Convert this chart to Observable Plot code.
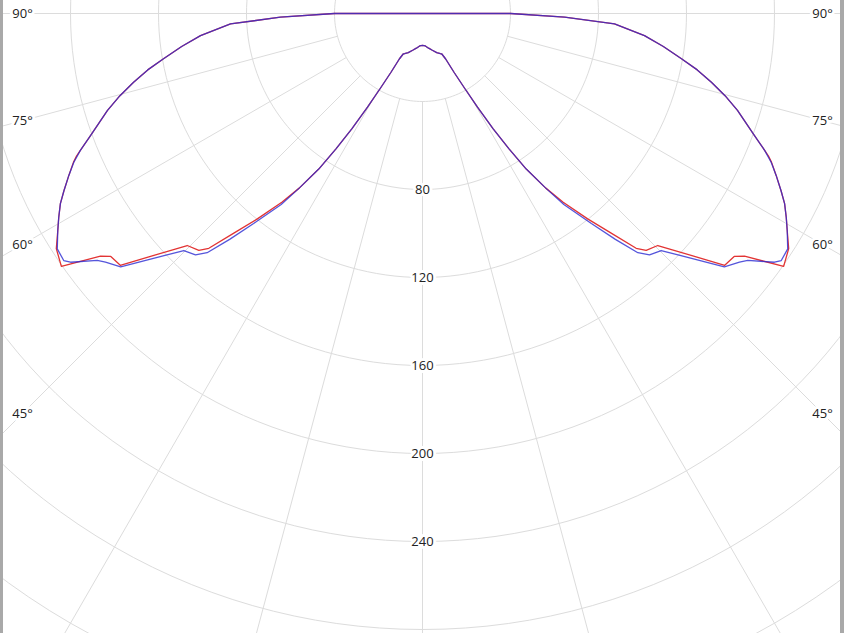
<!DOCTYPE html>
<html>
<head>
<meta charset="utf-8">
<script src="https://cdn.jsdelivr.net/npm/d3@7"></script>
<script src="https://cdn.jsdelivr.net/npm/@observablehq/plot@0.6"></script>
<style>
  body { margin: 0; background: #fff; }
  #wrap { position: relative; width: 844px; height: 633px; overflow: hidden; background: #fff; }
  #wrap::before, #wrap::after { content: ""; position: absolute; top: 0; bottom: 0; background: #a9a9a9; z-index: 2; }
  #wrap::before { left: 0; width: 3px; }
  #wrap::after { right: 0; width: 4px; }
  #wrap svg { display: block; }
</style>
</head>
<body>
<div id="wrap"></div>
<script>
// ---- data (gamma angle in degrees, intensity) ----
const ringValues = [40, 80, 120, 160, 200, 240, 280, 320];
const ringLabels = [80, 120, 160, 200, 240];
const spokeAngles = [-90, -75, -60, -45, -30, -15, 0, 15, 30, 45, 60, 75, 90];
const angleLabels = [90, 75, 60, 45];

const redAngles = [0, 5, 10, 15, 20, 24, 25.5, 27, 28.2, 29.4, 30.4, 31.5, 32.6, 33.7, 35.2, 36.7, 38.8, 40.7, 42.3, 43.35, 45.4, 50.2, 52.1, 53.0, 55.0, 57.3, 59.25, 60.75, 62.3, 63.7, 65.4, 66.9, 67.6, 68.2, 69.8, 71.6, 72.9, 74.8, 76.6, 78.4, 80.1, 82.2, 84.3, 86.9, 88.5, 90];
const redValues = [14.5, 14.8, 16.0, 17.3, 18.9, 20.0, 20.4, 23.2, 30.3, 39.0, 49.4, 61.5, 73, 85, 97, 107, 119.8, 131.8, 144.3, 148.1, 150.2, 178.8, 179.7, 183.3, 200.4, 197.8, 192.9, 189.5, 185.9, 181.8, 176.8, 172.5, 170.1, 167.5, 160.8, 154.2, 149.8, 142.5, 135, 127.5, 119.5, 110.5, 101.4, 87.4, 64.6, 40];

const blueAngles = [0, 5, 10, 15, 20, 24, 25.5, 27, 28.2, 29.4, 30.4, 31.5, 32.6, 33.7, 35.2, 36.5, 38.8, 40.5, 42.0, 43.25, 45.2, 50.0, 51.9, 52.8, 54.75, 55.45, 57.2, 59.25, 60.75, 62.3, 63.7, 65.4, 66.9, 68.2, 69.8, 71.6, 72.9, 74.8, 76.6, 78.4, 80.1, 82.2, 84.3, 86.9, 88.5, 90];
const blueValues = [14.5, 14.8, 16.0, 17.3, 18.9, 20.0, 20.4, 23.2, 30.3, 39.0, 49.4, 61.5, 73, 85, 97, 108, 122.5, 135, 146.3, 150.6, 152.9, 179.1, 183.1, 185.6, 195.9, 198, 197.5, 192.9, 189.5, 185.9, 181.8, 176.8, 172.3, 167.5, 160.8, 154.2, 149.8, 142.5, 135, 127.5, 119.5, 110.5, 101.4, 87.4, 64.6, 40];

// ---- geometry helpers ----
const W = 844, H = 633;
const pxPerUnit = 2.2;     // scale: 40 units per ring step
const centerX = 422, centerY = 13;
const rad = d => d * Math.PI / 180;
// angle measured from nadir (down), negative = left side
const pol = (a, r) => ({x: r * Math.sin(rad(a)), y: -r * Math.cos(rad(a))});

// full symmetric curve: left 90 -> 0 -> right 90 -> origin -> back
function curve(angles, values) {
  const left = angles.map((a, i) => pol(-a, values[i])).reverse();
  const right = angles.slice(1).map((a, i) => pol(a, values[i + 1]));
  const pts = [...left, ...right, pol(180, 0)];
  pts.push(left[0]);
  return pts;
}
const redPts = curve(redAngles, redValues);
const bluePts = curve(blueAngles, blueValues);

const ringPts = ringValues.flatMap(v => d3.range(0, 361, 2).map(t => ({v, ...pol(t, v)})));

const labelDist = 400 / pxPerUnit;
const angleLabelData = angleLabels.flatMap(a => [-1, 1].map(s => ({a, s})));

const font = "'Open Sans', 'Noto Sans', sans-serif";

const chart = Plot.plot({
  width: W,
  height: H,
  marginTop: 0, marginRight: 0, marginBottom: 0, marginLeft: 0,
  x: {domain: [-centerX / pxPerUnit, (W - centerX) / pxPerUnit], axis: null},
  y: {domain: [-(H - centerY) / pxPerUnit, centerY / pxPerUnit], axis: null},
  style: {fontFamily: font, background: "white", overflow: "hidden"},
  marks: [
    Plot.line(ringPts, {x: "x", y: "y", z: "v", stroke: "#dcdcdc", strokeWidth: 1}),
    Plot.link(spokeAngles, {
      x1: a => pol(a, ringValues[0]).x, y1: a => pol(a, ringValues[0]).y,
      x2: a => pol(a, 420).x, y2: a => pol(a, 420).y,
      stroke: "#dcdcdc", strokeWidth: 1
    }),
    Plot.text(ringLabels, {
      x: () => 0, y: d => -d, text: d => String(d),
      fill: "#222", stroke: "white", strokeWidth: 6, paintOrder: "stroke",
      fontSize: 13, textAnchor: "middle"
    }),
    Plot.text(angleLabelData, {
      x: d => d.s * labelDist,
      y: d => -labelDist * Math.cos(rad(d.a)) / Math.sin(rad(d.a)),
      text: d => d.a + "°",
      fill: "#222", stroke: "white", strokeWidth: 6, paintOrder: "stroke",
      fontSize: 13, textAnchor: "middle"
    }),
    Plot.line(redPts, {x: "x", y: "y", stroke: "#e23434", strokeWidth: 1.3, curve: "linear"}),
    Plot.line(bluePts, {x: "x", y: "y", stroke: "#2a2ad2", strokeOpacity: 0.8, strokeWidth: 1.3, curve: "linear"})
  ]
});

document.getElementById("wrap").appendChild(chart);
</script>
</body>
</html>
